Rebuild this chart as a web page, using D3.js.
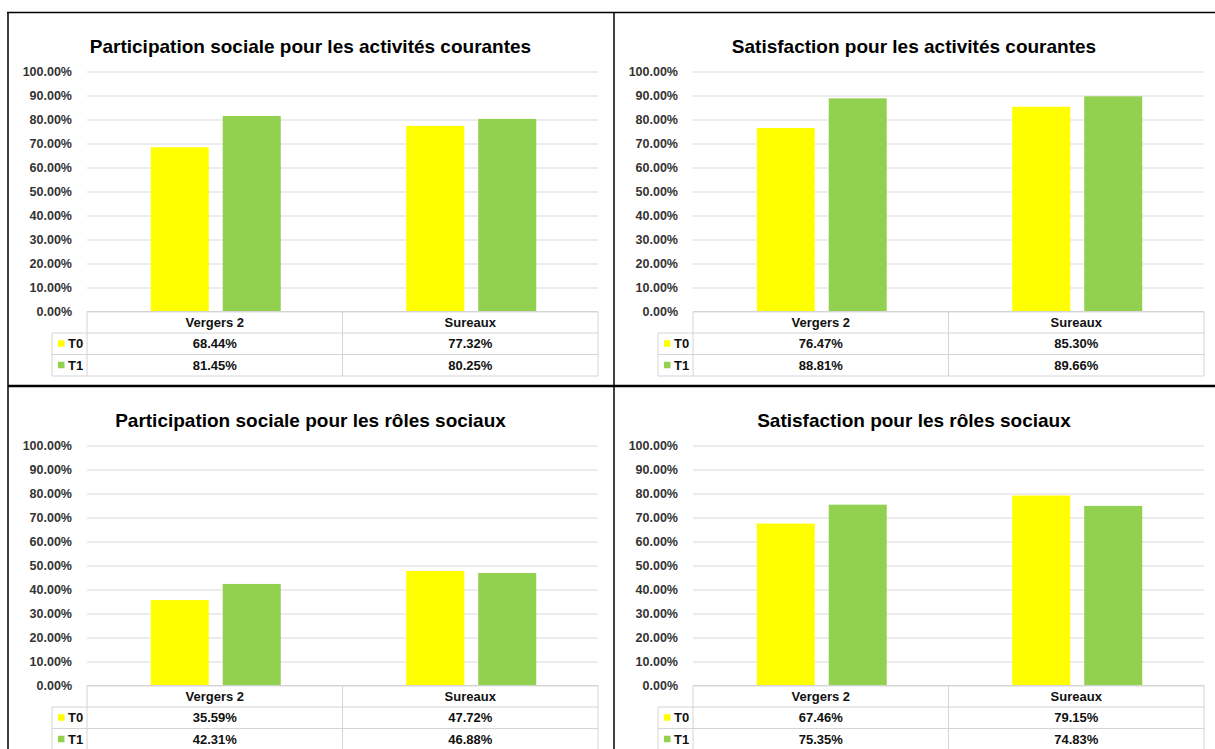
<!DOCTYPE html>
<html>
<head>
<meta charset="utf-8">
<script src="https://cdn.jsdelivr.net/npm/d3@7"></script>
<style>
  html, body { margin: 0; padding: 0; background: #ffffff; }
  svg { display: block; }
</style>
</head>
<body>
<svg id="chart" width="1215" height="749"></svg>
<script>
// ---- Data ----
const categories = ["Vergers 2", "Sureaux"];
const seriesNames = ["T0", "T1"];
const seriesColors = ["#FFFF00", "#92D050"];
const yTicks = [0, 10, 20, 30, 40, 50, 60, 70, 80, 90, 100];

const titlePartAct = "Participation sociale pour les activités courantes";
const titleSatAct = "Satisfaction pour les activités courantes";
const titlePartRol = "Participation sociale pour les rôles sociaux";
const titleSatRol = "Satisfaction pour les rôles sociaux";

const partActT0 = [68.44, 77.32];
const partActT1 = [81.45, 80.25];
const satActT0 = [76.47, 85.30];
const satActT1 = [88.81, 89.66];
const partRolT0 = [35.59, 47.72];
const partRolT1 = [42.31, 46.88];
const satRolT0 = [67.46, 79.15];
const satRolT1 = [75.35, 74.83];

// ---- Drawing ----
const svg = d3.select("#chart");
const FONT = "'Liberation Sans', Arial, sans-serif";
const GRID = "#d9d9d9";
const TABLE_LINE = "#d4d4d4";

function drawPanel(px, py, pw, title, t0, t1) {
  const g = svg.append("g");
  const plotL = px + 79, plotR = px + 590;
  const yTop = py + 59.5, yBot = py + 299.5;
  const rowH = 21.5;

  // title
  g.append("text")
    .attr("x", px + pw / 2).attr("y", py + 41)
    .attr("text-anchor", "middle")
    .attr("font-family", FONT).attr("font-weight", "bold")
    .attr("font-size", 19).attr("fill", "#000")
    .text(title);

  const y = d3.scaleLinear().domain([0, 100]).range([yBot, yTop]);
  const x0 = d3.scaleBand().domain(categories).range([plotL, plotR]);
  const bw = x0.bandwidth();
  const x1 = d3.scaleBand().domain(seriesNames)
    .range([bw / 2 - 64, bw / 2 + 66]).paddingInner(0.194);

  // gridlines + labels
  const axis = d3.axisLeft(y).tickValues(yTicks)
    .tickSize(-(plotR - plotL)).tickPadding(15)
    .tickFormat(d => d.toFixed(2) + "%");
  const ag = g.append("g").attr("transform", `translate(${plotL},0)`).call(axis);
  ag.select(".domain").remove();
  ag.selectAll(".tick line").attr("stroke", GRID).attr("stroke-width", 1);
  ag.selectAll(".tick text")
    .attr("font-family", FONT).attr("font-weight", "bold")
    .attr("font-size", 12.5).attr("fill", "#333");

  // bars
  const values = [t0, t1];
  const rows = [];
  categories.forEach((c, ci) => {
    seriesNames.forEach((s, si) => rows.push({ c, s, v: values[si][ci], si }));
  });
  g.append("g").selectAll("rect").data(rows).join("rect")
    .attr("x", d => x0(d.c) + x1(d.s))
    .attr("width", x1.bandwidth())
    .attr("y", d => y(d.v))
    .attr("height", d => y(0) - y(d.v))
    .attr("fill", d => seriesColors[d.si]);

  // data table
  const tg = g.append("g");
  const legL = px + 44;
  const tTop = yBot;
  const line = (x1_, y1_, x2_, y2_) => tg.append("line")
    .attr("x1", x1_).attr("y1", y1_).attr("x2", x2_).attr("y2", y2_)
    .attr("stroke", TABLE_LINE).attr("stroke-width", 1);
  line(plotL, tTop, plotR, tTop);
  line(legL, tTop + rowH, plotR, tTop + rowH);
  line(legL, tTop + 2 * rowH, plotR, tTop + 2 * rowH);
  line(legL, tTop + 3 * rowH, plotR, tTop + 3 * rowH);
  line(plotL, tTop, plotL, tTop + 3 * rowH);
  line(legL, tTop + rowH, legL, tTop + 3 * rowH);
  categories.forEach((c, i) => {
    if (i > 0) line(x0(c), tTop, x0(c), tTop + 3 * rowH);
  });
  line(plotR, tTop, plotR, tTop + 3 * rowH);

  const txt = (x, yy, s, anchor) => tg.append("text")
    .attr("x", x).attr("y", yy).attr("dy", "0.36em")
    .attr("text-anchor", anchor)
    .attr("font-family", FONT).attr("font-weight", "bold")
    .attr("font-size", 13).attr("fill", "#111")
    .text(s);

  categories.forEach(c => txt(x0(c) + bw / 2, tTop + rowH / 2, c, "middle"));
  seriesNames.forEach((s, si) => {
    const cy = tTop + rowH * (si + 1.5);
    tg.append("rect").attr("x", legL + 6).attr("y", cy - 3.5)
      .attr("width", 6.5).attr("height", 6.5).attr("fill", seriesColors[si]);
    txt(legL + 16, cy, s, "start");
    categories.forEach((c, ci) => {
      txt(x0(c) + bw / 2, cy, values[si][ci].toFixed(2) + "%", "middle");
    });
  });
}

drawPanel(8, 12, 605, titlePartAct, partActT0, partActT1);
drawPanel(614, 12, 600, titleSatAct, satActT0, satActT1);
drawPanel(8, 386, 605, titlePartRol, partRolT0, partRolT1);
drawPanel(614, 386, 600, titleSatRol, satRolT0, satRolT1);

// frame lines
const frame = svg.append("g").attr("stroke", "#000");
frame.append("line").attr("x1", 7).attr("y1", 12.5).attr("x2", 1215).attr("y2", 12.5).attr("stroke-width", 1.5);
frame.append("line").attr("x1", 8).attr("y1", 12).attr("x2", 8).attr("y2", 749).attr("stroke-width", 1.5);
frame.append("line").attr("x1", 614).attr("y1", 12).attr("x2", 614).attr("y2", 749).attr("stroke-width", 1.5);
frame.append("line").attr("x1", 8).attr("y1", 386).attr("x2", 1215).attr("y2", 386).attr("stroke-width", 2.5);
</script>
</body>
</html>
